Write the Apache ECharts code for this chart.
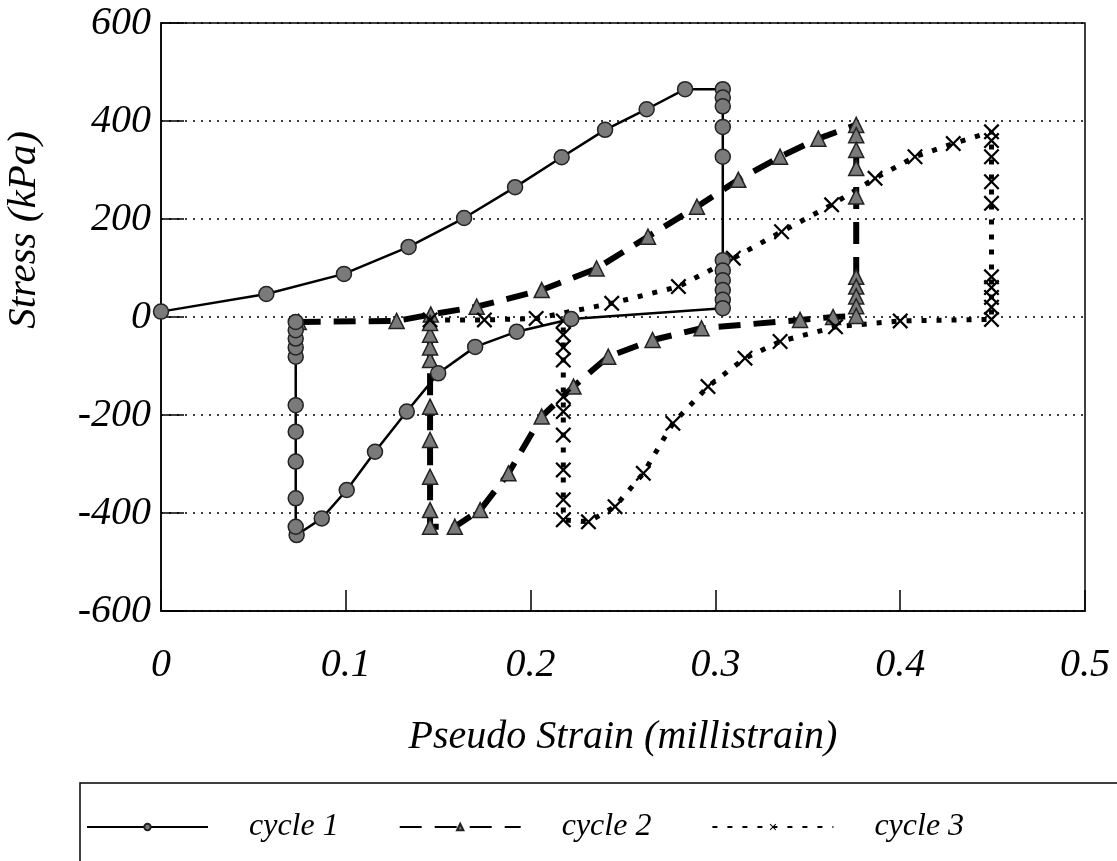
<!DOCTYPE html>
<html>
<head>
<meta charset="utf-8">
<script src="https://cdn.jsdelivr.net/npm/echarts@6/dist/echarts.min.js"></script>
<style>
  html, body { margin: 0; padding: 0; background: #fff; }
  #chart { width: 1117px; height: 861px; }
</style>
</head>
<body>
<div id="chart"></div>
<script>
// pseudo strain (millistrain), stress (kPa) in plotting order
const cycle1 = [
  [0, 11], [0.057, 47], [0.099, 88], [0.134, 143], [0.164, 202], [0.1916, 265],
  [0.2168, 326], [0.2403, 382], [0.2628, 424], [0.2836, 465], [0.304, 465],
  [0.304, 448], [0.304, 430], [0.304, 388], [0.304, 327], [0.304, 116], [0.304, 95],
  [0.304, 75], [0.304, 55], [0.304, 35], [0.304, 18], [0.222, -4], [0.1925, -30],
  [0.170, -61], [0.150, -115], [0.133, -193], [0.1158, -275], [0.1005, -353],
  [0.087, -411], [0.0734, -445], [0.0729, -428], [0.0729, -370], [0.0729, -295],
  [0.0729, -234], [0.0729, -180], [0.0729, -81], [0.0729, -62], [0.0729, -44],
  [0.0729, -27], [0.0729, -10]
]
const cycle2 = [
  [0.0745, -10], [0.1275, -8], [0.146, 5], [0.1708, 21], [0.206, 55], [0.2357, 99],
  [0.2635, 164], [0.290, 225], [0.3124, 280], [0.335, 327], [0.3557, 364],
  [0.3762, 392], [0.3762, 371], [0.3762, 341], [0.3762, 304], [0.3762, 246],
  [0.3762, 82], [0.3762, 62], [0.3762, 42], [0.3762, 22], [0.3762, 2], [0.3637, 0],
  [0.3458, -6], [0.2925, -23], [0.266, -47], [0.242, -81], [0.2232, -142],
  [0.206, -203], [0.188, -319], [0.1727, -394], [0.159, -428], [0.1456, -428],
  [0.1456, -394], [0.1456, -326], [0.1456, -251], [0.1456, -183], [0.1456, -88],
  [0.1456, -62], [0.1456, -36], [0.1456, -12]
]
const cycle3 = [
  [0.1456, -6], [0.175, -6], [0.203, -3], [0.2439, 28], [0.28, 62], [0.3097, 120],
  [0.3358, 174], [0.3629, 229], [0.3864, 283], [0.408, 327], [0.4287, 354],
  [0.4494, 378], [0.4494, 360], [0.4494, 327], [0.4494, 276], [0.4494, 232],
  [0.4494, 82], [0.4494, 60], [0.4494, 40], [0.4494, 20], [0.4494, -5],
  [0.40, -8], [0.365, -20], [0.335, -50], [0.316, -84], [0.296, -142],
  [0.277, -217], [0.261, -319], [0.2457, -387], [0.2313, -418], [0.2177, -414],
  [0.2177, -373], [0.2177, -312], [0.2177, -241], [0.2177, -193], [0.2177, -163],
  [0.2177, -88], [0.2177, -62], [0.2177, -36], [0.2177, -8]
]
const seriesNames = ["cycle 1", "cycle 2", "cycle 3"]
const xTickLabels = ["0", "0.1", "0.2", "0.3", "0.4", "0.5"]
const yTickLabels = ["-600", "-400", "-200", "0", "200", "400", "600"]

const serif = "Liberation Serif"
const xMark = "path://M1,0 L5,4 L9,0 L10,1 L6,5 L10,9 L9,10 L5,6 L1,10 L0,9 L4,5 L0,1 Z"

const chart = echarts.init(document.getElementById("chart"), null, { renderer: "canvas" })

const option = {
  animation: false,
  backgroundColor: "#fff",
  grid: {
    left: 161,
    right: 32,
    top: 23,
    bottom: 250,
    show: true,
    borderColor: "#000",
    borderWidth: 1.5,
  },
  legend: {
    data: seriesNames,
    left: 80,
    top: 783,
    width: 1080,
    orient: "horizontal",
    padding: [28, 160, 40, 6],
    borderColor: "#000",
    borderWidth: 1.5,
    itemWidth: 121,
    itemHeight: 8,
    itemGap: 60,
    textStyle: {
      fontFamily: serif,
      fontStyle: "italic",
      fontSize: 32,
      color: "#000",
      padding: [0, 0, 0, 36],
    },
  },
  xAxis: {
    type: "value",
    min: 0,
    max: 0.5,
    interval: 0.1,
    name: "Pseudo Strain (millistrain)",
    nameLocation: "middle",
    nameGap: 106,
    nameTextStyle: {
      fontFamily: serif,
      fontStyle: "italic",
      fontSize: 40,
      color: "#000",
    },
    axisLine: { onZero: false, lineStyle: { color: "#000", width: 1.5 } },
    axisTick: { inside: true, length: 21, lineStyle: { color: "#000", width: 1.5 } },
    axisLabel: {
      margin: 34,
      fontFamily: serif,
      fontStyle: "italic",
      fontSize: 40,
      color: "#000",
      formatter: (v) => xTickLabels[Math.round(v * 10)],
    },
    splitLine: { show: false },
  },
  yAxis: {
    type: "value",
    min: -600,
    max: 600,
    interval: 200,
    axisLine: { onZero: false, lineStyle: { color: "#000", width: 1.5 } },
    axisTick: { inside: true, length: 23, lineStyle: { color: "#000", width: 1.5 } },
    axisLabel: {
      margin: 10,
      fontFamily: serif,
      fontStyle: "italic",
      fontSize: 40,
      color: "#000",
      formatter: (v) => yTickLabels[Math.round((v + 600) / 200)],
    },
    splitLine: {
      show: true,
      lineStyle: { color: "#000", width: 1.5, type: [2, 6] },
    },
  },
  graphic: [
    {
      type: "text",
      x: 24,
      y: 230,
      rotation: Math.PI / 2,
      style: {
        text: "Stress (kPa)",
        fontFamily: serif,
        fontStyle: "italic",
        fontSize: 41,
        fill: "#000",
        align: "center",
        verticalAlign: "middle",
      },
    },
  ],
  series: [
    {
      name: seriesNames[0],
      type: "line",
      data: cycle1,
      symbol: "circle",
      symbolSize: 15,
      lineStyle: { color: "#000", width: 2.5 },
      itemStyle: { color: "#7a7a7a", borderColor: "#222", borderWidth: 1.5 },
      z: 3,
    },
    {
      name: seriesNames[1],
      type: "line",
      data: cycle2,
      symbol: "triangle",
      symbolSize: 15,
      lineStyle: { color: "#000", width: 6, type: [22, 13] },
      itemStyle: { color: "#7a7a7a", borderColor: "#222", borderWidth: 1.5 },
      z: 2,
    },
    {
      name: seriesNames[2],
      type: "line",
      data: cycle3,
      symbol: xMark,
      symbolSize: 16,
      lineStyle: { color: "#000", width: 5, type: [5, 10] },
      itemStyle: { color: "#000" },
      z: 2,
    },
  ],
}

chart.setOption(option)
</script>
</body>
</html>
